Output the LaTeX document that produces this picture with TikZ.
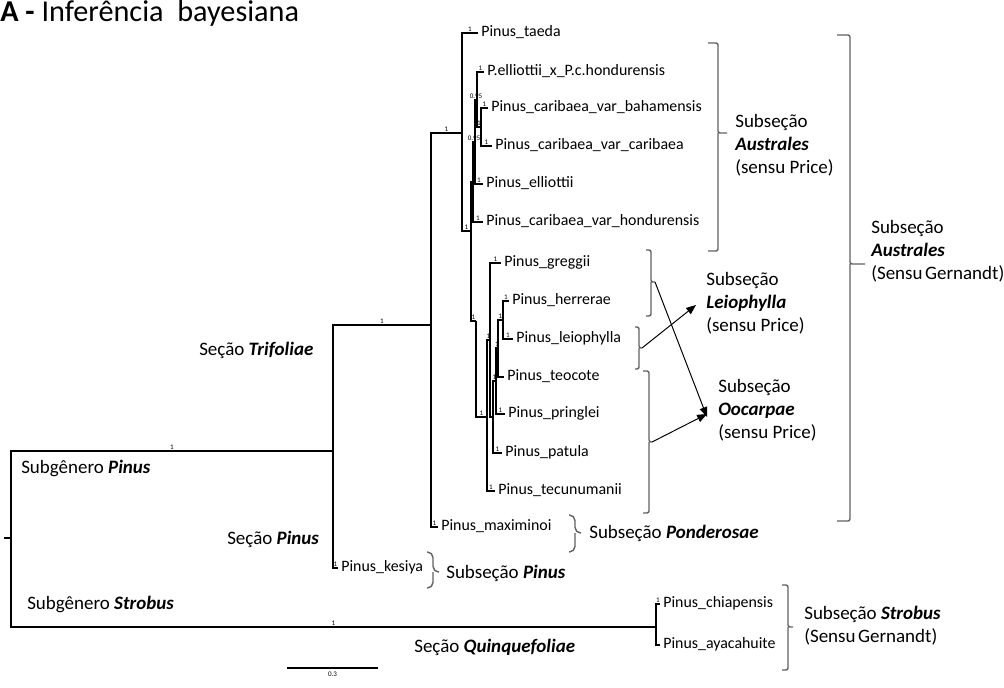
\documentclass[tikz,border=0pt]{standalone}
\usepackage{fontspec}
\setmainfont{Carlito}
\usetikzlibrary{arrows.meta,calc}
\tikzset{
  branch/.style={line width=0.8pt, black},
  leaf/.style={anchor=west, inner xsep=2.2pt, inner ysep=0pt, text height=8pt, text depth=2.5pt, font=\fontsize{11.3}{12}\selectfont},
  pp/.style={above, inner sep=0.6pt, font=\fontsize{5}{5}\selectfont},
  brk/.style={line width=1pt, black!62, rounded corners=1.5pt},
  sect/.style={anchor=west, align=left, inner sep=0pt, font=\fontsize{13.5}{16.4}\selectfont},
  arr/.style={line width=0.7pt, -{Triangle[length=7pt,width=5.5pt]}}
}
\def\subbrace[#1](#2,#3,#4)(#5:#6:#7)#8{\draw[brk,#1] (#2-#6,#3) -- (#2,#3) -- (#2,#5) -- (#2+#7,#5) coordinate (#8) (#2,#5) -- (#2,#4) -- (#2-#6,#4);}

\begin{document}
\begin{tikzpicture}[x=0.025cm, y=-0.025cm]
  \useasboundingbox (0,0) rectangle (1004,688);
  %%%%% TITLE %%%%%
  \node[anchor=west, inner sep=0pt, font=\fontsize{21.5}{23}\selectfont] (title) at (0,13) {\textbf{A -} Inferência~ bayesiana};

  %%%%% INTERNAL NODES %%%%%
  \coordinate (stub) at (4,538);
  \coordinate (root) at (11,538);
  \coordinate (subPinus) at (333,451);
  \coordinate (strob) at (656,627);
  \coordinate (trif) at (431,325);
  \coordinate (austA) at (462,133);
  \coordinate (cladeB) at (471,231);
  \coordinate (cladeC) at (473,182);
  \coordinate (n3) at (475,142);
  \coordinate (n2) at (477,100);
  \coordinate (n1) at (481,127);
  \coordinate (cladeX) at (476,321);
  \coordinate (cladeE) at (487,417);
  \coordinate (n9) at (490,340);
  \coordinate (n8) at (493,417);
  \coordinate (n7) at (496,381);
  \coordinate (n6) at (498,348);
  \coordinate (n5) at (503,320);

  %%%%% LEAVES %%%%%
  \node[leaf] (taeda) at (478,33) {Pinus\_taeda};
  \node[leaf] (ellxhond) at (484,72) {P.elliottii\_x\_P.c.hondurensis};
  \node[leaf] (bahamensis) at (488,108) {Pinus\_caribaea\_var\_bahamensis};
  \node[leaf] (caribaea) at (492,146) {Pinus\_caribaea\_var\_caribaea};
  \node[leaf] (elliottii) at (483,184) {Pinus\_elliottii};
  \node[leaf] (carHond) at (483,222) {Pinus\_caribaea\_var\_hondurensis};
  \node[leaf] (greggii) at (501,263) {Pinus\_greggii};
  \node[leaf] (herrerae) at (509,301) {Pinus\_herrerae};
  \node[leaf] (leiophylla) at (513,339) {Pinus\_leiophylla};
  \node[leaf] (teocote) at (504,377) {Pinus\_teocote};
  \node[leaf] (pringlei) at (505,414) {Pinus\_pringlei};
  \node[leaf] (patula) at (502,453) {Pinus\_patula};
  \node[leaf] (tecunumanii) at (495,491) {Pinus\_tecunumanii};
  \node[leaf] (maximinoi) at (438,527) {Pinus\_maximinoi};
  \node[leaf] (kesiya) at (338,568) {Pinus\_kesiya};
  \node[leaf] (chiapensis) at (660,604) {Pinus\_chiapensis};
  \node[leaf] (ayacahuite) at (660,645) {Pinus\_ayacahuite};

  %%%%% BRANCHES %%%%%
  \draw[branch] (stub) -- (root);
  \draw[branch] (root) |- node[pp, pos=0.75]{1} (subPinus);
  \draw[branch] (root) |- node[pp, pos=0.75]{1} (strob);
  \draw[branch] (subPinus) |- node[pp, pos=0.75]{1} (trif);
  \draw[branch] (subPinus) |- node[pp, pos=0.75]{1} (kesiya.west);
  \draw[branch] (trif) |- node[pp, pos=0.75]{1} (austA);
  \draw[branch] (trif) |- node[pp, pos=0.75]{1} (maximinoi.west);
  \draw[branch] (austA) |- node[pp, pos=0.75]{1} (taeda.west);
  \draw[branch] (austA) |- node[pp, pos=0.75]{1} (cladeB);
  \draw[branch] (cladeB) |- (cladeC);
  \draw[branch] (cladeB) |- node[pp, pos=0.75]{1} (cladeX);
  \draw[branch] (cladeC) |- node[pp, pos=0.75]{0.95} (n3);
  \draw[branch] (cladeC) |- node[pp, pos=0.75]{1} (carHond.west);
  \draw[branch] (n3) |- node[pp, pos=0.75]{0.95} (n2);
  \draw[branch] (n3) |- node[pp, pos=0.75]{1} (elliottii.west);
  \draw[branch] (n2) |- node[pp, pos=0.75]{1} (ellxhond.west);
  \draw[branch] (n2) |- node[pp, pos=0.75]{1} (n1);
  \draw[branch] (n1) |- node[pp, pos=0.75]{1} (bahamensis.west);
  \draw[branch] (n1) |- node[pp, pos=0.75]{1} (caribaea.west);
  \draw[branch] (cladeX) |- node[pp, pos=0.75]{1} (cladeE);
  \draw[branch] (cladeE) |- node[pp, pos=0.75]{1} (n9);
  \draw[branch] (cladeE) |- node[pp, pos=0.75]{1} (tecunumanii.west);
  \draw[branch] (n9) |- node[pp, pos=0.75]{1} (greggii.west);
  \draw[branch] (n9) |- (n8);
  \draw[branch] (n8) |- node[pp, pos=0.75]{1} (n7);
  \draw[branch] (n8) |- node[pp, pos=0.75]{1} (patula.west);
  \draw[branch] (n7) |- node[pp, pos=0.75]{1} (n6);
  \draw[branch] (n7) |- node[pp, pos=0.75]{1} (pringlei.west);
  \draw[branch] (n6) |- node[pp, pos=0.75]{1} (n5);
  \draw[branch] (n6) |- (teocote.west);
  \draw[branch] (n5) |- node[pp, pos=0.75]{1} (herrerae.west);
  \draw[branch] (n5) |- node[pp, pos=0.75]{1} (leiophylla.west);
  \draw[branch] (strob) |- node[pp, pos=0.75]{1} (chiapensis.west);
  \draw[branch] (strob) |- (ayacahuite.west);

  %%%%% SCALE BAR %%%%%
  \coordinate (sbL) at (287,668);
  \coordinate (sbR) at (378,668);
  \draw[line width=0.8pt] (sbL) -- (sbR);
  \node[pp, below=2pt] (sbLab) at ($(sbL)!0.5!(sbR)$) {0.3};

  %%%%% GROUP LABELS %%%%%
  \node[sect] (secTrif) at (199,350) {Seção \textbf{\textit{Trifoliae}}};
  \node[sect] (subgPinus) at (21,468) {Subgênero \textbf{\textit{Pinus}}};
  \node[sect] (secPinus) at (227,539) {Seção \textbf{\textit{Pinus}}};
  \node[sect] (subgStrob) at (27,604) {Subgênero \textbf{\textit{Strobus}}};
  \node[sect] (secQuin) at (414,647) {Seção \textbf{\textit{Quinquefoliae}}};

  %%%%% BRACKETS %%%%%
  \subbrace[](718,43,251)(133:10:9){tickAus}
  \subbrace[](850,35,521)(264:13:15){tickGer}
  \subbrace[](651,250,316)(282:5:4){tickGH}
  \subbrace[](639,327,369)(348:4:3){tickLeio}
  \subbrace[](649,371,513)(442:6:3){tickOoc}
  \subbrace[](788,585,670)(627:6:5){tickStr}
  \subbrace[rounded corners=4pt](575,515,552)(533:6:6){tickPond}
  \subbrace[rounded corners=4pt](433,552,588)(572:6:6){tickPin}

  \node[sect] (ausPrice) at (735,145) {Subseção\\\textbf{\textit{Australes}}\\(sensu Price)};
  \node[sect] (ausGer) at (871,251) {Subseção\\\textbf{\textit{Australes}}\\(Sensu\hspace{1.8pt}Gernandt)};
  \node[sect] (leioLab) at (706,303) {Subseção\\\textbf{\textit{Leiophylla}}\\(sensu Price)};
  \node[sect] (oocLab) at (718,410) {Subseção\\\textbf{\textit{Oocarpae}}\\(sensu Price)};
  \node[sect] (strLab) at (804,626) {Subseção \textbf{\textit{Strobus}}\\(Sensu\hspace{1.8pt}Gernandt)};
  \node[sect] (pondLab) at (589,533) {Subseção \textbf{\textit{Ponderosae}}};
  \node[sect] (pinLab) at (446,573) {Subseção \textbf{\textit{Pinus}}};

  %%%%% ARROWS %%%%%
  \coordinate (leioIn) at (696,305);
  \coordinate (oocIn) at (707,417);
  \coordinate (oocIn2) at (707,414);
  \draw[arr] (tickGH) -- (oocIn);
  \draw[arr] (tickLeio) -- (leioIn);
  \draw[arr] (tickOoc) -- (oocIn2);
\end{tikzpicture}
\end{document}
